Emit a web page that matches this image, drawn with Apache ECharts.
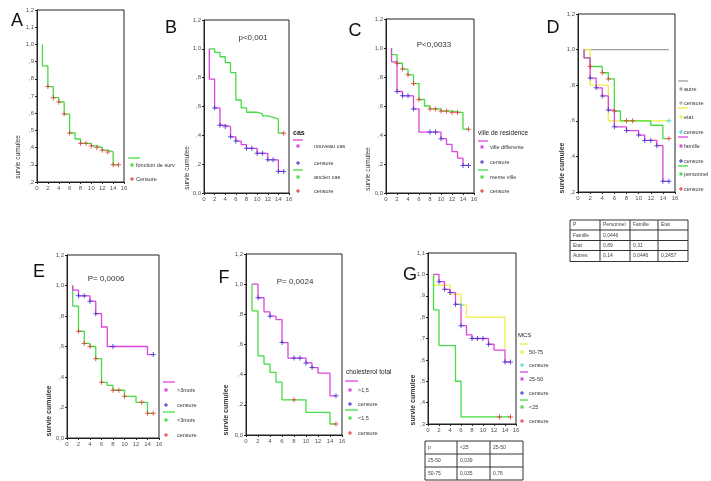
<!DOCTYPE html>
<html><head><meta charset="utf-8">
<script src="https://cdn.jsdelivr.net/npm/echarts@6/dist/echarts.min.js"></script>
<style>html,body{margin:0;padding:0;background:#fff}#c{width:711px;height:481px}</style>
</head><body><div id="c"></div>
<script>
// ---------- DATA ----------
const xTicks = ['0','2','4','6','8','10','12','14','16'];
const yLabels_02_12_by01 = [',2',',3',',4',',5',',6',',7',',8',',9','1,0','1,1','1,2'];
const yLabels_00_12_by02 = ['0,0',',2',',4',',6',',8','1,0','1,2'];
const yLabels_02_12_by02 = [',2',',4',',6',',8','1,0','1,2'];
const yLabels_03_11_by01 = [',3',',4',',5',',6',',7',',8',',9','1,0','1,1'];

// Panel A
const kmA = [[1,1.0],[1,0.875],[2,0.755],[3,0.69],[4,0.665],[5,0.595],[6,0.485],[7,0.45],[8,0.425],[10,0.41],[11,0.40],[12,0.385],[13,0.375],[14,0.30],[15,0.30]];
const censA = [[2,0.755],[3,0.69],[4,0.665],[5,0.595],[6,0.485],[8,0.425],[9,0.425],[10,0.41],[11,0.40],[12,0.385],[13,0.375],[14,0.30],[15,0.30]];
// Panel B
const kmB_nouveau = [[1,1.0],[1,0.79],[2,0.59],[3,0.47],[4,0.46],[5,0.39],[6,0.36],[7,0.335],[8,0.31],[10,0.275],[12,0.23],[14,0.15],[15,0.15]];
const censB_nouveau = [[2,0.59],[3,0.47],[4,0.46],[5,0.39],[6,0.36],[8,0.31],[9,0.31],[10,0.275],[11,0.275],[12,0.23],[13,0.23],[14,0.15],[15,0.15]];
const kmB_ancien = [[1,1.0],[2,0.975],[3,0.945],[4,0.905],[5,0.835],[6,0.645],[7,0.59],[8,0.56],[10,0.55],[11,0.535],[12,0.525],[13,0.515],[14,0.415],[15,0.415]];
const censB_ancien = [[15,0.415]];
// Panel C
const kmC_diff = [[1,1.0],[1,0.905],[2,0.70],[3,0.67],[5,0.58],[6,0.42],[10,0.375],[11,0.335],[12,0.285],[13,0.24],[14,0.19],[15,0.19]];
const censC_diff = [[2,0.70],[3,0.67],[4,0.67],[5,0.58],[8,0.42],[9,0.42],[10,0.375],[14,0.19],[15,0.19]];
const kmC_meme = [[1,1.0],[1,0.955],[2,0.895],[3,0.855],[4,0.815],[5,0.755],[6,0.645],[7,0.60],[8,0.58],[10,0.565],[12,0.555],[14,0.44],[15,0.44]];
const censC_meme = [[2,0.895],[3,0.855],[4,0.815],[5,0.755],[6,0.645],[8,0.58],[9,0.58],[10,0.565],[11,0.565],[12,0.555],[13,0.555],[15,0.44]];
// Panel D
const kmD_autre = [[1,1.0],[15,1.0]];
const kmD_etat = [[1,1.0],[2,0.80],[5,0.60],[15,0.60]];
const censD_etat = [[15,0.60]];
const kmD_famille = [[1,1.0],[1,0.953],[2,0.84],[3,0.785],[4,0.74],[5,0.66],[6,0.566],[8,0.545],[10,0.52],[11,0.49],[13,0.46],[14,0.26],[15,0.26]];
const censD_famille = [[2,0.84],[3,0.785],[4,0.74],[5,0.66],[6,0.566],[8,0.545],[10,0.52],[11,0.49],[12,0.49],[13,0.46],[14,0.26],[15,0.26]];
const kmD_personnel = [[1,1.0],[1,0.953],[2,0.905],[4,0.87],[5,0.835],[6,0.655],[7,0.60],[12,0.575],[14,0.50],[15,0.50]];
const censD_personnel = [[2,0.905],[4,0.87],[5,0.835],[6,0.655],[8,0.60],[9,0.60],[15,0.50]];
// Panel E
const kmE_plus = [[1,1.0],[1,0.97],[2,0.932],[4,0.897],[5,0.815],[6,0.728],[7,0.60],[14,0.547],[15,0.547]];
const censE_plus = [[2,0.932],[3,0.932],[4,0.897],[5,0.815],[8,0.60],[15,0.547]];
const kmE_moins = [[1,1.0],[1,0.865],[2,0.70],[3,0.62],[4,0.60],[5,0.52],[6,0.365],[7,0.345],[8,0.313],[10,0.273],[12,0.234],[14,0.162],[15,0.162]];
const censE_moins = [[2,0.70],[3,0.62],[4,0.60],[5,0.52],[6,0.365],[8,0.313],[9,0.313],[10,0.273],[13,0.234],[14,0.162],[15,0.162]];
// Panel F
const kmF_haut = [[1,1.0],[2,0.91],[3,0.816],[4,0.788],[5,0.765],[6,0.613],[7,0.51],[10,0.478],[11,0.447],[12,0.41],[14,0.26],[15,0.26]];
const censF_haut = [[2,0.91],[4,0.788],[6,0.613],[8,0.51],[9,0.51],[10,0.478],[11,0.447],[15,0.26]];
const kmF_bas = [[1,1.0],[1,0.823],[2,0.525],[3,0.47],[4,0.415],[5,0.35],[6,0.233],[10,0.15],[14,0.073],[15,0.073]];
const censF_bas = [[8,0.233],[15,0.073]];
// Panel G
const kmG_5075 = [[1,1.0],[1,0.95],[4,0.906],[6,0.857],[7,0.80],[14,0.80],[14,0.65]];
const censG_5075 = [[6,0.857]];
const kmG_2550 = [[1,1.0],[2,0.966],[3,0.93],[4,0.915],[5,0.86],[6,0.76],[7,0.717],[8,0.70],[11,0.673],[12,0.646],[14,0.59],[15,0.59]];
const censG_2550 = [[2,0.966],[3,0.93],[4,0.915],[5,0.86],[6,0.76],[8,0.70],[9,0.70],[10,0.70],[11,0.673],[14,0.59],[15,0.59]];
const kmG_25 = [[1,1.0],[1,0.834],[2,0.667],[5,0.50],[6,0.333],[15,0.333]];
const censG_25 = [[13,0.333],[15,0.333]];

// Tables
const tableD = [['P','Personnel','Famille','Etat'],['Famille','0,0446','',''],['Etat','0,89','0,31',''],['Autres','0,14','0,0446','0,2457']];
const tableG = [['p','<25','25-50'],['25-50','0,039',''],['50-75','0,035','0,76']];

// ---------- STYLE ----------
const GREEN='#44dd44', MAG='#dd44dd', BLUE='#3030d0', RED='#e83030', YEL='#eeee44', GRAY='#a0a0a0', CYAN='#33d6d6';
const FONT='Liberation Sans, Arial, sans-serif';
const PLUS='path://M4,0H6V4H10V6H6V10H4V6H0V4H4Z';

const panels = [
  {g:{left:37,top:10,width:87,height:172}, ymin:0.2,ymax:1.2,int:0.1,lab:yLabels_02_12_by01,
   curves:[[kmA,GREEN,censA,RED]]},
  {g:{left:204,top:20,width:85,height:173}, ymin:0,ymax:1.2,int:0.2,lab:yLabels_00_12_by02,
   curves:[[kmB_ancien,GREEN,censB_ancien,RED],[kmB_nouveau,MAG,censB_nouveau,BLUE]]},
  {g:{left:386,top:19,width:88,height:174}, ymin:0,ymax:1.2,int:0.2,lab:yLabels_00_12_by02,
   curves:[[kmC_meme,GREEN,censC_meme,RED],[kmC_diff,MAG,censC_diff,BLUE]]},
  {g:{left:578,top:14,width:97,height:178}, ymin:0.2,ymax:1.2,int:0.2,lab:yLabels_02_12_by02,
   curves:[[kmD_autre,GRAY,[],GRAY],[kmD_etat,YEL,censD_etat,CYAN],[kmD_personnel,GREEN,censD_personnel,RED],[kmD_famille,MAG,censD_famille,BLUE]]},
  {g:{left:67,top:255,width:92,height:183}, ymin:0,ymax:1.2,int:0.2,lab:yLabels_00_12_by02,
   curves:[[kmE_moins,GREEN,censE_moins,RED],[kmE_plus,MAG,censE_plus,BLUE]]},
  {g:{left:246,top:254,width:96,height:181}, ymin:0,ymax:1.2,int:0.2,lab:yLabels_00_12_by02,
   curves:[[kmF_bas,GREEN,censF_bas,RED],[kmF_haut,MAG,censF_haut,BLUE]]},
  {g:{left:428,top:253,width:88,height:171}, ymin:0.3,ymax:1.1,int:0.1,lab:yLabels_03_11_by01,
   curves:[[kmG_5075,YEL,censG_5075,CYAN],[kmG_25,GREEN,censG_25,RED],[kmG_2550,MAG,censG_2550,BLUE]]}
];

const grid=[],xAxis=[],yAxis=[],series=[];
panels.forEach((p,i)=>{
  grid.push(Object.assign({show:true,borderColor:'#222',borderWidth:1,backgroundColor:'#fff'},p.g));
  xAxis.push({gridIndex:i,type:'value',min:0,max:16,interval:2,
    axisLine:{lineStyle:{color:'#222',width:1}},axisTick:{show:true,length:2,lineStyle:{color:'#222'}},
    splitLine:{show:false},
    axisLabel:{fontSize:6,color:'#555',margin:3,fontFamily:FONT,formatter:v=>xTicks[Math.round(v/2)]}});
  yAxis.push({gridIndex:i,type:'value',min:p.ymin,max:p.ymax,interval:p.int,
    axisLine:{lineStyle:{color:'#222',width:1}},axisTick:{show:true,length:2,lineStyle:{color:'#222'}},
    splitLine:{show:false},
    axisLabel:{fontSize:6,color:'#555',margin:3,fontFamily:FONT,
      formatter:v=>p.lab[Math.round((v-p.ymin)/p.int)]}});
  p.curves.forEach(c=>{
    series.push({type:'line',xAxisIndex:i,yAxisIndex:i,data:c[0],step:'end',showSymbol:false,
      lineStyle:{color:c[1],width:1.3},silent:true,animation:false,z:2});
    if(c[2].length) series.push({type:'scatter',xAxisIndex:i,yAxisIndex:i,data:c[2],symbol:PLUS,symbolSize:5,
      itemStyle:{color:c[3]},silent:true,animation:false,z:3});
  });
});

// ---------- GRAPHICS (labels, legends, tables) ----------
const G=[];
function txt(x,y,s,o){G.push({type:'text',x:x,y:y,style:Object.assign({text:s,fontSize:6,fill:'#333',fontFamily:FONT,verticalAlign:'middle'},o||{})});}
function ln(x1,y1,x2,y2,c,w){G.push({type:'line',shape:{x1:x1,y1:y1,x2:x2,y2:y2},style:{stroke:c,lineWidth:w||1.3}});}
function sq(x,y,c){G.push({type:'rect',shape:{x:x-1.5,y:y-1.5,width:3,height:3},style:{fill:c}});}
function plus(x,y,c){ln(x-2,y,x+2,y,c,1);ln(x,y-2,x,y+2,c,1);}
// Panel letters
[['A',17,21],['B',171,28],['C',355,31],['D',553,28],['E',39,272],['F',224,278],['G',410,275]].forEach(a=>
  txt(a[1],a[2],a[0],{fontSize:18,fill:'#111',align:'center',fontFamily:'Liberation Sans, Arial, sans-serif'}));
// y-axis titles
[[18,157,false],[187,168,false],[368,169,false],[562,168,true],[49,411,true],[226,410,true],[413,400,true]].forEach(a=>
  G.push({type:'text',x:a[0],y:a[1],rotation:Math.PI/2,style:{text:'survie cumulee',fontSize:a[2]?7:6.5,fontWeight:a[2]?'bold':'normal',fill:'#333',fontFamily:FONT,align:'center',verticalAlign:'middle'}}));
// p values
txt(253,38,'p<0,001',{fontSize:8,align:'center'});
txt(434,45,'P<0,0033',{fontSize:8,align:'center'});
txt(106,279,'P= 0,0006',{fontSize:8,align:'center'});
txt(295,282,'P= 0,0024',{fontSize:8,align:'center'});
// legends
function legend(lx1,lx2,sx,tx,items){
  items.forEach(it=>{
    if(it.t==='line') ln(lx1,it.y,lx2,it.y,it.c,1.3);
    else if(it.t==='sq'){sq(sx,it.y,it.c);txt(tx,it.y,it.s,{fontSize:5.5});}
    else if(it.t==='+'){plus(sx,it.y,it.c);txt(tx,it.y,it.s,{fontSize:5.5});}
  });
}
legend(128,140,132,136,[{t:'line',y:158,c:GREEN},{t:'sq',y:165,c:GREEN,s:'fonction de surv'},{t:'+',y:179,c:RED,s:'Censure'}]);
txt(293,133,'cas',{fontSize:7,fontWeight:'bold',fill:'#222'});
legend(293,303,298,314,[{t:'line',y:140,c:MAG},{t:'sq',y:146,c:MAG,s:'nouveau cas'},{t:'+',y:163,c:BLUE,s:'censure'},{t:'line',y:170,c:GREEN},{t:'sq',y:177,c:GREEN,s:'ancien cas'},{t:'+',y:191,c:RED,s:'censure'}]);
txt(478,133,'ville de residence',{fontSize:6.5,fill:'#222'});
legend(478,488,482,490,[{t:'line',y:141,c:MAG},{t:'sq',y:147,c:MAG,s:'ville differente'},{t:'+',y:162,c:BLUE,s:'censure'},{t:'line',y:170,c:GREEN},{t:'sq',y:177,c:GREEN,s:'meme ville'},{t:'+',y:191,c:RED,s:'censure'}]);
legend(678,688,681,684,[{t:'line',y:81,c:GRAY},{t:'sq',y:89,c:GRAY,s:'autre'},{t:'+',y:103,c:GRAY,s:'censure'},{t:'line',y:108,c:YEL},{t:'sq',y:117,c:YEL,s:'etat'},{t:'+',y:132,c:CYAN,s:'censure'},{t:'line',y:137,c:MAG},{t:'sq',y:146,c:MAG,s:'famille'},{t:'+',y:161,c:BLUE,s:'censure'},{t:'line',y:166,c:GREEN},{t:'sq',y:174,c:GREEN,s:'personnel'},{t:'+',y:189,c:RED,s:'censure'}]);
legend(163,175,166,177,[{t:'line',y:382,c:MAG},{t:'sq',y:390,c:MAG,s:'>3mois'},{t:'+',y:405,c:BLUE,s:'censure'},{t:'line',y:412,c:GREEN},{t:'sq',y:420,c:GREEN,s:'<3mois'},{t:'+',y:435,c:RED,s:'censure'}]);
txt(346,372,'cholesterol total',{fontSize:6.5,fill:'#222'});
legend(345,358,350,358,[{t:'line',y:381,c:MAG},{t:'sq',y:390,c:MAG,s:'>1,5'},{t:'+',y:404,c:BLUE,s:'censure'},{t:'line',y:410,c:GREEN},{t:'sq',y:418,c:GREEN,s:'<1,5'},{t:'+',y:433,c:RED,s:'censure'}]);
txt(518,335,'MCS',{fontSize:6,fill:'#222'});
legend(520,528,522,529,[{t:'line',y:344,c:YEL},{t:'sq',y:352,c:YEL,s:'50-75'},{t:'+',y:365,c:CYAN,s:'censure'},{t:'line',y:372,c:MAG},{t:'sq',y:379,c:MAG,s:'25-50'},{t:'+',y:393,c:BLUE,s:'censure'},{t:'line',y:400,c:GREEN},{t:'sq',y:407,c:GREEN,s:'<25'},{t:'+',y:421,c:RED,s:'censure'}]);
// tables
function table(cols,rows,cells){
  cols.forEach(x=>ln(x,rows[0],x,rows[rows.length-1],'#333',1));
  rows.forEach(y=>ln(cols[0],y,cols[cols.length-1],y,'#333',1));
  cells.forEach((r,ri)=>r.forEach((s,ci)=>{ if(s) txt(cols[ci]+3,(rows[ri]+rows[ri+1])/2,s,{fontSize:5,fill:'#444'}); }));
}
table([570,600,630,658,688],[220,230,240.5,250.5,261.5],tableD);
table([425,457,490,523],[441,454,467,480],tableG);

const chart=echarts.init(document.getElementById('c'),null,{renderer:'canvas'});
chart.setOption({backgroundColor:'#fff',animation:false,grid,xAxis,yAxis,series,graphic:{elements:G}});
</script></body></html>
